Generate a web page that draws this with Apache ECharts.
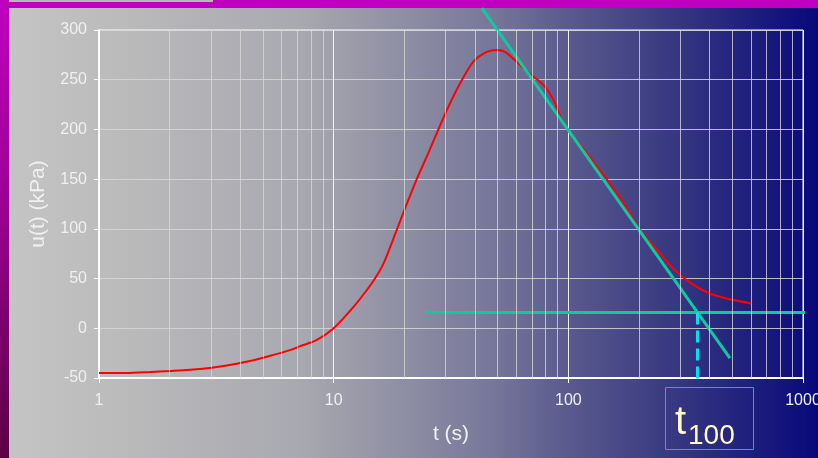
<!DOCTYPE html>
<html>
<head>
<meta charset="utf-8">
<script src="https://cdn.jsdelivr.net/npm/echarts@6/dist/echarts.min.js"></script>
<style>
  html, body { margin: 0; padding: 0; width: 818px; height: 458px; overflow: hidden; }
  body { position: relative; background: linear-gradient(to bottom, #c000c0 0%, #a00098 40%, #5c0044 100%); }
  #topband { position: absolute; left: 0; top: 0; width: 818px; height: 8px; background: #c000c0; }
  #strip { position: absolute; left: 9px; top: 0; width: 204px; height: 2px; background: #b8b8b8; }
  #panel { position: absolute; left: 9px; top: 8px; width: 809px; height: 450px;
    background: linear-gradient(to right, #c4c4c4 0%, #bcbcbc 12%, #a8a8b0 36%, #9090a4 48%, #76769a 60%, #5a5a8e 69%, #303080 85%, #08087a 100%); }
  #chart { position: absolute; left: 0; top: 0; width: 818px; height: 458px; }
</style>
</head>
<body>
<div id="topband"></div>
<div id="strip"></div>
<div id="panel"></div>
<div id="chart"></div>
<script>
// ---- data ----
const curveT = [1, 1.3, 1.65, 2.0, 2.7, 3.4, 4.4, 5.5, 6.5, 7.2, 8.45, 10, 12.1, 13.8, 15, 16.3, 18.5, 20.1, 22.6, 25.5, 30.3, 34.5, 39.3, 44.9, 49.5, 53.7, 60.2, 68.6, 78.2, 86.3, 93.7, 100, 120, 136, 166, 202, 238, 280, 319, 388, 472, 604];
const curveU = [-45, -45, -44, -43, -41, -38, -33, -27, -22, -18, -12, 0, 21, 38, 50, 65, 98, 120, 150, 178, 219, 246, 268, 278, 280, 278, 268, 256, 245, 230, 210, 199, 176, 159, 132, 99, 79, 60, 48.5, 36.5, 30, 25];
const tangentT = [42.8, 488];
const tangentU = [322, -30];
const baseT = [24.5, 1070];
const baseU = [16, 16];
const t100T = [355, 355];
const t100U = [16, -51];
const minorTicks = [2, 3, 4, 5, 6, 7, 8, 9, 20, 30, 40, 50, 60, 70, 80, 90, 200, 300, 400, 500, 600, 700, 800, 900];
const yTicks = { min: -50, max: 300, step: 50 };
const xRange = { min: 1, max: 1000 };
const xName = 't (s)';
const yName = 'u(t) (kPa)';
const boxMain = 't';
const boxSub = '100';

const zip = (a, b) => a.map((v, i) => [v, b[i]]);
const FONT = 'Liberation Sans, Arial, sans-serif';
const LBL = '#f0f0f0';

const chart = echarts.init(document.getElementById('chart'), null, { renderer: 'canvas' });
chart.setOption({
  backgroundColor: 'transparent',
  animation: false,
  grid: { left: 99, right: 15, top: 30, bottom: 80, show: true, borderColor: '#ffffff', borderWidth: 1,
          backgroundColor: 'transparent', containLabel: false, outerBoundsMode: 'none' },
  xAxis: {
    type: 'log', logBase: 10, min: xRange.min, max: xRange.max,
    name: xName, nameLocation: 'middle', nameGap: 46,
    nameTextStyle: { color: LBL, fontSize: 21, fontFamily: FONT },
    axisLine: { show: true, onZero: false, lineStyle: { color: '#ffffff', width: 2 } },
    axisTick: { show: true, length: 5, lineStyle: { color: '#ffffff' } },
    axisLabel: { color: LBL, fontSize: 16, fontFamily: FONT, margin: 15, formatter: v => String(v) },
    splitLine: { show: true, lineStyle: { color: 'rgba(255,255,255,0.9)', width: 1 } },
    minorTick: { show: false }, minorSplitLine: { show: false }
  },
  yAxis: {
    type: 'value', min: yTicks.min, max: yTicks.max, interval: yTicks.step,
    name: yName, nameLocation: 'middle', nameGap: 50,
    nameTextStyle: { color: LBL, fontSize: 21, fontFamily: FONT },
    axisLine: { show: true, onZero: false, lineStyle: { color: '#ffffff', width: 2 } },
    axisTick: { show: true, length: 5, lineStyle: { color: '#ffffff' } },
    axisLabel: { color: LBL, fontSize: 16, fontFamily: FONT, margin: 12 },
    splitLine: { show: true, lineStyle: { color: 'rgba(215,215,215,0.85)', width: 1 } }
  },
  series: [
    {
      type: 'line', data: [], silent: true, z: 1,
      markLine: {
        silent: true, symbol: ['none', 'none'], animation: false,
        label: { show: false },
        lineStyle: { color: 'rgba(215,215,215,0.8)', width: 1, type: 'solid' },
        data: minorTicks.map(v => ({ xAxis: v }))
      }
    },
    {
      type: 'line', data: zip(curveT, curveU), showSymbol: false, smooth: 0.25, z: 3,
      lineStyle: { color: '#ff0000', width: 2 }
    },
    {
      type: 'line', data: zip(tangentT, tangentU), showSymbol: false, clip: false, z: 4,
      lineStyle: { color: '#12c89e', width: 3 }
    },
    {
      type: 'line', data: zip(baseT, baseU), showSymbol: false, clip: false, z: 4,
      lineStyle: { color: '#12c89e', width: 3 }
    },
    {
      type: 'line', data: zip(t100T, t100U), showSymbol: false, clip: false, z: 5,
      lineStyle: { color: '#00e4f0', width: 3, type: [12, 6] }
    }
  ],
  graphic: [
    { type: 'rect', shape: { x: 665.5, y: 387.5, width: 88, height: 62 },
      style: { fill: 'none', stroke: '#1fb5a5', lineWidth: 1 }, z: 10 },
    { type: 'text', x: 675, y: 423,
      style: { text: boxMain, font: '40px ' + FONT, fill: '#fffcc8', align: 'left', verticalAlign: 'middle' }, z: 10 },
    { type: 'text', x: 688, y: 436,
      style: { text: boxSub, font: '28px ' + FONT, fill: '#fffcc8', align: 'left', verticalAlign: 'middle' }, z: 10 }
  ]
});
</script>
</body>
</html>
